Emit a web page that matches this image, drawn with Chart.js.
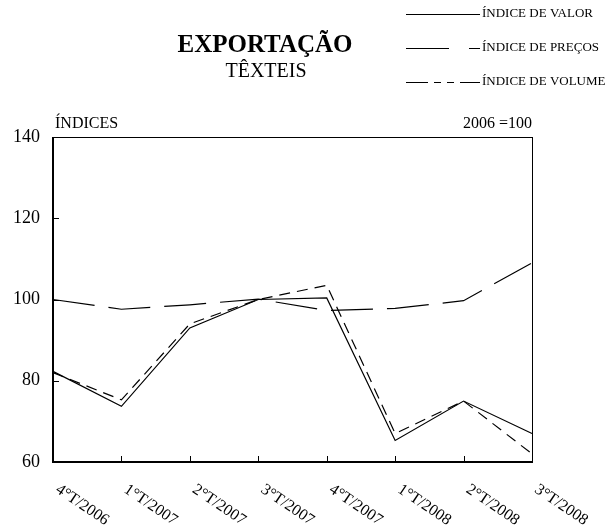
<!DOCTYPE html>
<html>
<head>
<meta charset="utf-8">
<script src="https://cdn.jsdelivr.net/npm/chart.js@4.4.1/dist/chart.umd.min.js"></script>
<style>
body{margin:0;background:#fff}
canvas{display:block}
</style>
</head>
<body>
<canvas id="grafico" width="609" height="528"></canvas>
<script>
let trimestres=['4°T/2006','1°T/2007','2°T/2007','3°T/2007','4°T/2007','1°T/2008','2°T/2008','3°T/2008']
let indiceValor=[82.3, 73.7, 93, 100, 100.4, 65.3, 75, 67]
let indicePrecos=[100, 97.6, 98.7, 100.1, 97.3, 97.8, 99.7, 109]
let indiceVolume=[82, 75.3, 94, 100, 103.5, 67, 75, 62]
let nomes=['ÍNDICE DE VALOR','ÍNDICE DE PREÇOS','ÍNDICE DE VOLUME']
let serif='"Liberation Serif", "Times New Roman", serif'

// legenda, titulo, moldura e rotulos do eixo x
const desenhos={
    id:'desenhos',
    afterDraw(chart){
        const ctx=chart.ctx
        const a=chart.chartArea
        const x=chart.scales.x
        const y=chart.scales.y
        ctx.save()
        ctx.strokeStyle='#000'
        ctx.fillStyle='#000'
        // moldura
        ctx.lineWidth=1
        ctx.strokeRect(a.left+0.5,a.top+0.5,a.right-a.left,a.bottom-a.top)
        ctx.lineWidth=2
        ctx.beginPath()
        ctx.moveTo(a.left,a.top)
        ctx.lineTo(a.left,a.bottom)
        ctx.lineTo(a.right,a.bottom)
        ctx.stroke()
        // marcas para dentro
        ctx.lineWidth=1
        ctx.beginPath()
        for(let i=1;i<trimestres.length;i++){
            let px=Math.round(x.getPixelForValue(i))+0.5
            ctx.moveTo(px,a.bottom)
            ctx.lineTo(px,a.bottom-6)
        }
        for(let v=80;v<140;v+=20){
            let py=Math.round(y.getPixelForValue(v))+0.5
            ctx.moveTo(a.left,py)
            ctx.lineTo(a.left+6,py)
        }
        ctx.stroke()
        // rotulos inclinados
        ctx.font='16px '+serif
        ctx.textAlign='left'
        ctx.textBaseline='middle'
        for(let i=0;i<trimestres.length;i++){
            ctx.save()
            ctx.translate(x.getPixelForValue(i)+4,a.bottom+26)
            ctx.rotate(34*Math.PI/180)
            ctx.fillText(trimestres[i],0,0)
            ctx.restore()
        }
        // titulo
        ctx.textAlign='center'
        ctx.textBaseline='alphabetic'
        ctx.font='bold 25px '+serif
        ctx.fillText('EXPORTAÇÃO',265,52)
        ctx.font='20px '+serif
        ctx.fillText('TÊXTEIS',266,77)
        // textos do eixo
        ctx.font='16px '+serif
        ctx.textAlign='left'
        ctx.fillText('ÍNDICES',a.left+2,a.top-9)
        ctx.textAlign='right'
        ctx.fillText('2006 =100',a.right,a.top-9)
        // legenda
        let tracos=[[],[43,20,8,0],[22,6,7,6,7,6,9,0]]
        let ly=[14,48,82]
        ctx.font='13px '+serif
        ctx.textAlign='left'
        ctx.textBaseline='middle'
        for(let i=0;i<3;i++){
            ctx.setLineDash(tracos[i])
            ctx.beginPath()
            ctx.moveTo(406,ly[i]+0.5)
            ctx.lineTo(480,ly[i]+0.5)
            ctx.stroke()
            ctx.setLineDash([])
            ctx.fillText(nomes[i],482,ly[i])
        }
        ctx.restore()
    }
}

const ctx=document.getElementById('grafico')
new Chart(ctx,{
    type:'line',
    data:{
        labels:trimestres,
        datasets:[{
            label:nomes[0],
            data:indiceValor,
            borderColor:'#000',
            borderWidth:1.2
        },{
            label:nomes[1],
            data:indicePrecos,
            borderColor:'#000',
            borderWidth:1.2,
            borderDash:[42,14]
        },{
            label:nomes[2],
            data:indiceVolume,
            borderColor:'#000',
            borderWidth:1.2,
            borderDash:[11,7]
        }]
    },
    options:{
        responsive:false,
        animation:false,
        devicePixelRatio:1,
        elements:{point:{radius:0},line:{tension:0}},
        layout:{padding:{top:137,right:77,left:0,bottom:0}},
        plugins:{legend:{display:false},tooltip:{enabled:false}},
        scales:{
            x:{
                offset:false,
                grid:{display:false},
                border:{display:false},
                ticks:{display:false},
                afterFit:(s)=>{s.height=66}
            },
            y:{
                min:60,
                max:140,
                grid:{display:false,drawTicks:false},
                border:{display:false},
                ticks:{stepSize:20,padding:13,color:'#000',font:{family:serif,size:18}},
                afterFit:(s)=>{s.width=53}
            }
        }
    },
    plugins:[desenhos]
})
</script>
</body>
</html>
